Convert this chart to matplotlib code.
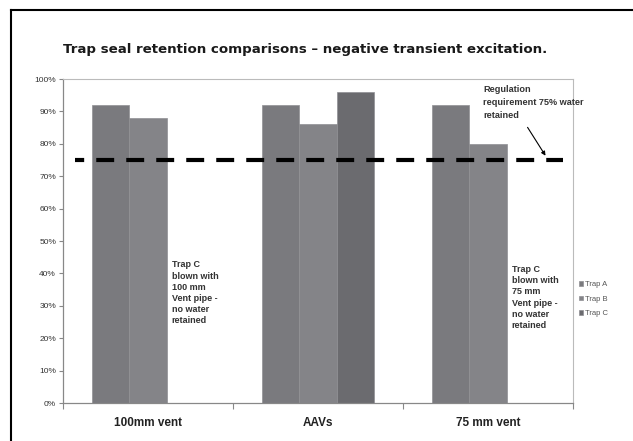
import numpy as np
import matplotlib
matplotlib.use("Agg")
from matplotlib import pyplot as plt
from matplotlib.lines import Line2D

categories = ["100mm vent", "AAVs", "75 mm vent"]
trap_a = [92, 92, 92]
trap_b = [88, 86, 80]
trap_c = [np.nan, 96, np.nan]  # blown in the vent-pipe tests
series_names = ["Trap A", "Trap B", "Trap C"]
regulation_level = 75
y_ticks = list(range(0, 101, 10))

colors = ["#7a7a7e", "#848488", "#6b6b6f"]

plt.rcParams['font.family'] = ['Liberation Sans', 'DejaVu Sans']

fig = plt.figure(figsize=(6.33, 4.41), dpi=100)
ax = fig.add_axes([63 / 633, 1 - 403 / 441, 510 / 633, 324 / 441])

x = np.arange(len(categories))
width = 0.22
for i, (vals, name) in enumerate(zip([trap_a, trap_b, trap_c], series_names)):
    ax.bar(x + (i - 1) * width, vals, width, color=colors[i], label=name,
           edgecolor="#909094", linewidth=0.5)

# regulation line, thick black dashes
ax.plot([-0.43, 2.44], [regulation_level, regulation_level], color="black",
        lw=3, linestyle=(2.1, (4.3, 2.9)), solid_capstyle="butt",
        dash_capstyle="butt", zorder=5)

ax.set_xlim(-0.5, 2.5)
ax.set_ylim(0, 100)
ax.set_yticks(y_ticks)
ax.set_yticklabels([f"{t}%" for t in y_ticks], fontsize=6, color="#333333")
ax.set_xticks([-0.5, 0.5, 1.5, 2.5])
ax.set_xticklabels([])
ax.set_xticks(x, minor=True)
ax.set_xticklabels(categories, minor=True, fontsize=8.5, fontweight="bold",
                   color="#222222")
ax.tick_params(axis="x", which="minor", length=0, pad=10)
ax.tick_params(axis="x", which="major", length=4, color="#888888", width=0.8)
ax.tick_params(axis="y", length=3, color="#888888", width=0.8, pad=2)

for side in ["left", "bottom"]:
    ax.spines[side].set_color("#888888")
    ax.spines[side].set_linewidth(0.9)
for side in ["top", "right"]:
    ax.spines[side].set_color("#bbbbbb")
    ax.spines[side].set_linewidth(0.8)

note_kw = dict(fontsize=6.5, fontweight="bold", color="#333333",
               linespacing=1.3, va="top", ha="left")
ax.text(0.14, 44, "Trap C\nblown with\n100 mm\nVent pipe -\nno water\nretained",
        **note_kw)
ax.text(2.14, 42.5, "Trap C\nblown with\n75 mm\nVent pipe -\nno water\nretained",
        **note_kw)

ax.text(1.97, 98, "Regulation\nrequirement 75% water\nretained", fontsize=6.6,
        fontweight="bold", color="#333333", linespacing=1.55, va="top",
        ha="left", clip_on=False)
ax.annotate("", xy=(2.347, 75.6), xytext=(2.224, 85.8),
            arrowprops=dict(arrowstyle="-|>", color="black", lw=0.8,
                            mutation_scale=6), zorder=6)

fig.legend(loc="upper left", bbox_to_anchor=(575 / 633, 1 - 277 / 441),
           frameon=False, fontsize=5.5, handlelength=0.6, handleheight=0.6,
           handletextpad=0.2, labelspacing=1.0, labelcolor="#555555",
           borderpad=0)

fig.text(63 / 633, 1 - 49 / 441,
         "Trap seal retention comparisons \u2013 negative transient excitation.",
         family="DejaVu Sans", fontsize=9.6, fontweight="bold", va="center",
         color="#1a1a1a")

# outer frame (top and left edges only)
fig.add_artist(Line2D([11 / 633, 11 / 633], [0, 1 - 10 / 441], color="black",
                      lw=1.5, transform=fig.transFigure))
fig.add_artist(Line2D([11 / 633, 1], [1 - 10 / 441, 1 - 10 / 441],
                      color="black", lw=1.5, transform=fig.transFigure))

fig.savefig("out.png", dpi=100)
